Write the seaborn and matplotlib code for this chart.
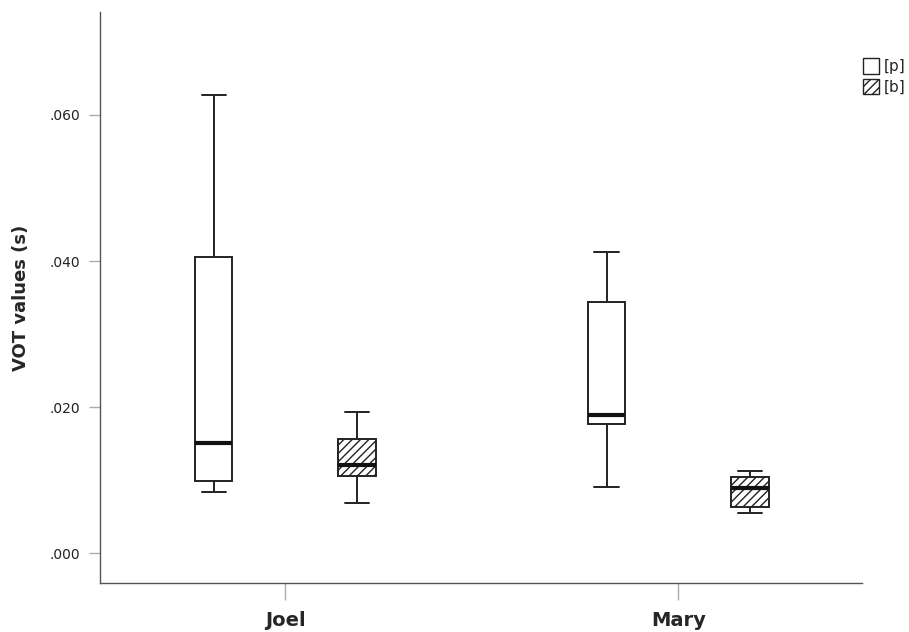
import numpy as np
import pandas as pd
import seaborn as sns
import matplotlib.pyplot as plt
from matplotlib.patches import Patch
from matplotlib.ticker import FuncFormatter

speakers = ["Joel", "Mary"]
stops = ["[p]", "[b]"]

# five-number summaries (min, Q1, median, Q3, max)
joel_p = [0.0084, 0.0099, 0.0151, 0.0405, 0.0627]
joel_b = [0.0068, 0.0105, 0.0121, 0.0156, 0.0193]
mary_p = [0.0090, 0.0177, 0.0189, 0.0344, 0.0412]
mary_b = [0.0055, 0.0063, 0.0089, 0.0104, 0.0112]

rows = []
for spk, stop, vals in [("Joel", "[p]", joel_p), ("Joel", "[b]", joel_b),
                        ("Mary", "[p]", mary_p), ("Mary", "[b]", mary_b)]:
    for v in vals:
        rows.append({"speaker": spk, "stop": stop, "vot": v})
df = pd.DataFrame(rows)

sns.set_theme(style="white")
plt.rcParams["font.family"] = ["DejaVu Sans"]
plt.rcParams["hatch.linewidth"] = 1.0

fig = plt.figure(figsize=(9.09, 6.32), dpi=100)
ax = fig.add_axes([0.110, 0.0775, 0.838, 0.9035])

sns.boxplot(data=df, x="speaker", y="vot", hue="stop", order=speakers,
            hue_order=stops, whis=(0, 100), width=0.73, gap=0.74,
            fill=True, palette=["white", "white"],
            linecolor="#222222", linewidth=1.4, legend=False,
            medianprops={"linewidth": 3, "color": "#111111"}, ax=ax)

# hatch the [b] boxes, shrink caps
for i, cont in enumerate(ax.containers):
    for box in cont.boxes:
        if i == 1:
            box.set_hatch("////")
    for cap in cont.caps:
        xd = cap.get_xdata()
        c = (xd[0] + xd[1]) / 2
        cap.set_xdata([c - 0.031, c + 0.031])

ax.set_xlim(-0.472, 1.467)
ax.set_ylim(-0.0041, 0.0741)
ax.set_yticks([0.0, 0.02, 0.04, 0.06])
ax.yaxis.set_major_formatter(FuncFormatter(lambda v, p: f"{v:.3f}".lstrip("0")))
ax.set_xlabel("")
ax.set_ylabel("VOT values (s)", fontsize=13, fontweight="bold", labelpad=14)

for s in ["top", "right"]:
    ax.spines[s].set_visible(False)
for s in ["left", "bottom"]:
    ax.spines[s].set_color("#555555")
    ax.spines[s].set_linewidth(1.0)

ax.tick_params(axis="y", left=True, length=8, width=1, color="#aaaaaa",
               labelsize=10, labelcolor="#222222", pad=6)
ax.tick_params(axis="x", bottom=True, length=12, width=1, color="#aaaaaa",
               labelsize=14, pad=8)
for lbl in ax.get_xticklabels():
    lbl.set_fontweight("bold")

handles = [Patch(facecolor="white", edgecolor="#222222", label="[p]"),
           Patch(facecolor="white", edgecolor="#222222", hatch="////", label="[b]")]
ax.legend(handles=handles, loc="upper left", bbox_to_anchor=(0.993, 0.93),
          frameon=False, fontsize=11, handlelength=1.1, handleheight=1.2,
          handletextpad=0.3, labelspacing=0.3, borderaxespad=0)

fig.savefig("out.png", dpi=100)
